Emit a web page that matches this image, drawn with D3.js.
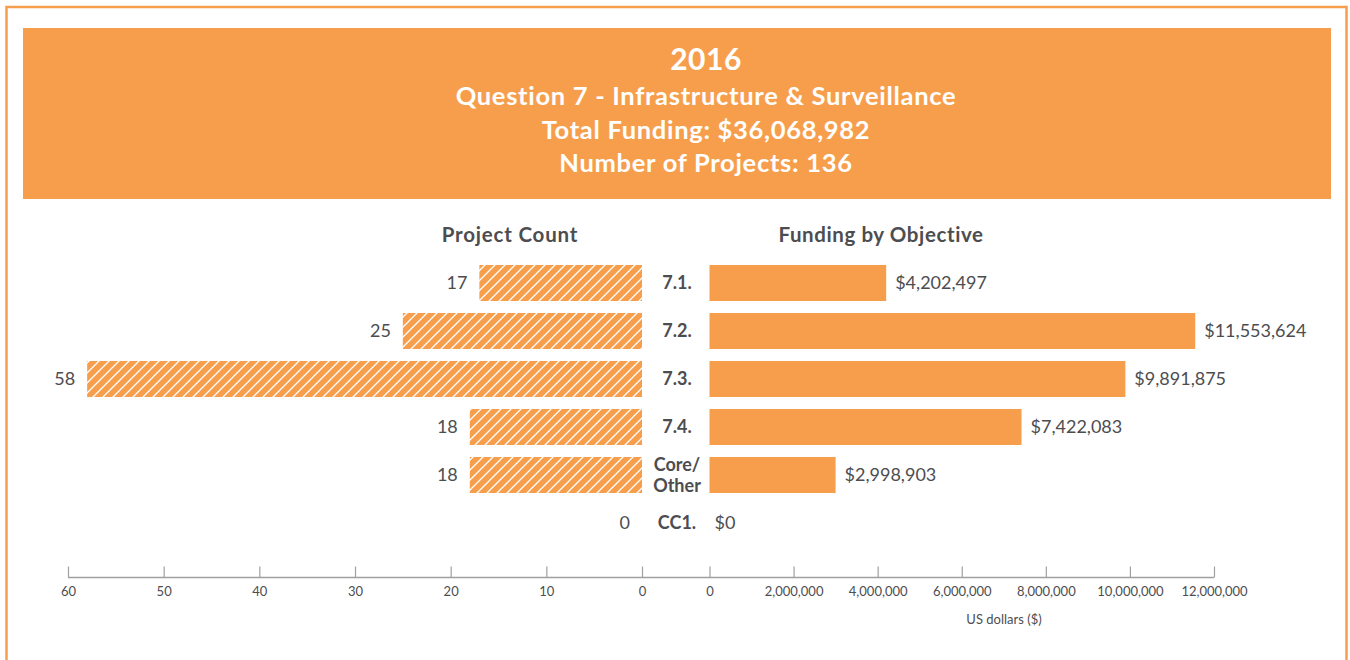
<!DOCTYPE html>
<html>
<head>
<meta charset="utf-8">
<script src="https://cdn.jsdelivr.net/npm/d3@7"></script>
<style>
  body { margin: 0; background: #fff; }
  svg text { font-family: Lato, "Open Sans", sans-serif; }
</style>
</head>
<body>
<svg width="1350" height="660"></svg>
<script>
// chart data
const categories = ["7.1.", "7.2.", "7.3.", "7.4.", "Core/Other", "CC1."];
const projectCounts = [17, 25, 58, 18, 18, 0];
const funding = [4202497, 11553624, 9891875, 7422083, 2998903, 0];
const countTicks = [60, 50, 40, 30, 20, 10, 0];
const fundingTicks = [0, 2000000, 4000000, 6000000, 8000000, 10000000, 12000000];
const headerLines = ["2016", "Question 7 - Infrastructure & Surveillance", "Total Funding: $36,068,982", "Number of Projects: 136"];

const orange = "#f79e4c",
  textGray = "#4d4d50",
  axisGray = "#a0a0a0";

const svg = d3.select("svg");

// outer frame
svg.append("rect")
  .attr("x", 6.5).attr("y", 7).attr("width", 1340).attr("height", 700)
  .attr("fill", "none").attr("stroke", orange).attr("stroke-width", 2.5);

// header band
svg.append("rect")
  .attr("x", 23).attr("y", 28).attr("width", 1308).attr("height", 171)
  .attr("fill", orange);

svg.append("g").selectAll("text")
  .data(headerLines)
  .join("text")
  .attr("x", 706)
  .attr("y", (d, i) => i == 0 ? 70 : 105 + (i - 1) * 33.5)
  .attr("text-anchor", "middle")
  .attr("fill", "#fff")
  .attr("font-weight", "bold")
  .attr("font-size", (d, i) => i == 0 ? 30 : 25.5)
  .attr("letter-spacing", (d, i) => i == 0 ? 0.5 : 0.7)
  .text(d => d);

// hatch pattern for project count bars
const defs = svg.append("defs");
const pat = defs.append("pattern")
  .attr("id", "hatch")
  .attr("patternUnits", "userSpaceOnUse")
  .attr("width", 10).attr("height", 10);
pat.append("rect").attr("width", 10).attr("height", 10).attr("fill", orange);
pat.append("path")
  .attr("d", "M-1,1 l2,-2 M0,10 l10,-10 M9,11 l2,-2")
  .attr("stroke", "#fff").attr("stroke-width", 1.3);

// scales
const y = d3.scaleBand()
  .domain(categories)
  .range([259, 259 + 6 * 48])
  .paddingInner(0.25)
  .paddingOuter(0.125);

const xLeft = d3.scaleLinear().domain([0, 60]).range([642, 68]);
const xRight = d3.scaleLinear().domain([0, 12000000]).range([709.5, 1214]);

const rows = categories.map((c, i) => ({ cat: c, count: projectCounts[i], fund: funding[i] }));

// panel titles
svg.append("text")
  .attr("x", 510).attr("y", 242)
  .attr("text-anchor", "middle").attr("font-weight", "bold")
  .attr("font-size", 20.5).attr("letter-spacing", 0.8).attr("fill", textGray)
  .text("Project Count");
svg.append("text")
  .attr("x", 881).attr("y", 242)
  .attr("text-anchor", "middle").attr("font-weight", "bold")
  .attr("font-size", 20.5).attr("letter-spacing", 0.6).attr("fill", textGray)
  .text("Funding by Objective");

// left bars
svg.append("g").selectAll("rect")
  .data(rows)
  .join("rect")
  .attr("x", d => xLeft(d.count))
  .attr("y", d => y(d.cat))
  .attr("width", d => xLeft(0) - xLeft(d.count))
  .attr("height", y.bandwidth())
  .attr("fill", "url(#hatch)");

svg.append("g").selectAll("text")
  .data(rows)
  .join("text")
  .attr("x", d => xLeft(d.count) - 12)
  .attr("y", d => y(d.cat) + y.bandwidth() / 2)
  .attr("dy", "0.35em")
  .attr("text-anchor", "end")
  .attr("font-size", 18).attr("fill", textGray)
  .text(d => d.count);

// right bars
svg.append("g").selectAll("rect")
  .data(rows)
  .join("rect")
  .attr("x", xRight(0))
  .attr("y", d => y(d.cat))
  .attr("width", d => xRight(d.fund) - xRight(0))
  .attr("height", y.bandwidth())
  .attr("fill", orange);

svg.append("g").selectAll("text")
  .data(rows)
  .join("text")
  .attr("x", d => xRight(d.fund) + (d.fund > 0 ? 9 : 5))
  .attr("y", d => y(d.cat) + y.bandwidth() / 2)
  .attr("dy", "0.35em")
  .attr("font-size", 18).attr("fill", textGray)
  .text(d => "$" + d3.format(",")(d.fund));

// category labels
const catG = svg.append("g").selectAll("text")
  .data(rows)
  .join("text")
  .attr("x", 677)
  .attr("y", d => y(d.cat) + y.bandwidth() / 2)
  .attr("text-anchor", "middle")
  .attr("font-weight", "bold")
  .attr("font-size", 18).attr("fill", textGray);
catG.each(function (d) {
  const parts = d.cat == "Core/Other" ? ["Core/", "Other"] : [d.cat];
  const t = d3.select(this);
  parts.forEach((p, i) => {
    t.append("tspan")
      .attr("x", 677)
      .attr("dy", parts.length == 1 ? "0.35em" : (i == 0 ? "-0.25em" : "1.2em"))
      .text(p);
  });
});

// axes
svg.append("line")
  .attr("x1", 68).attr("x2", 1214)
  .attr("y1", 577.5).attr("y2", 577.5)
  .attr("stroke", axisGray).attr("stroke-width", 1.5);

function styleAxis(g) {
  g.select(".domain").remove();
  g.selectAll(".tick line").attr("stroke", axisGray).attr("stroke-width", 1.2);
  g.selectAll(".tick text")
    .attr("fill", textGray)
    .attr("font-size", 13)
    .attr("font-family", "'Liberation Sans Narrow', 'Roboto Condensed', Roboto, sans-serif")
    .attr("y", 9);
}

svg.append("g")
  .attr("transform", "translate(0,577.5)")
  .call(d3.axisBottom(xLeft).tickValues(countTicks).tickSizeInner(-11).tickSizeOuter(0))
  .call(styleAxis);

svg.append("g")
  .attr("transform", "translate(0,577.5)")
  .call(d3.axisBottom(xRight).tickValues(fundingTicks).tickFormat(d3.format(",")).tickSizeInner(-11).tickSizeOuter(0))
  .call(styleAxis);

svg.append("text")
  .attr("x", 1004).attr("y", 624)
  .attr("text-anchor", "middle")
  .attr("font-size", 13)
  .attr("font-family", "'Liberation Sans Narrow', 'Roboto Condensed', Roboto, sans-serif")
  .attr("fill", textGray)
  .text("US dollars ($)");
</script>
</body>
</html>
